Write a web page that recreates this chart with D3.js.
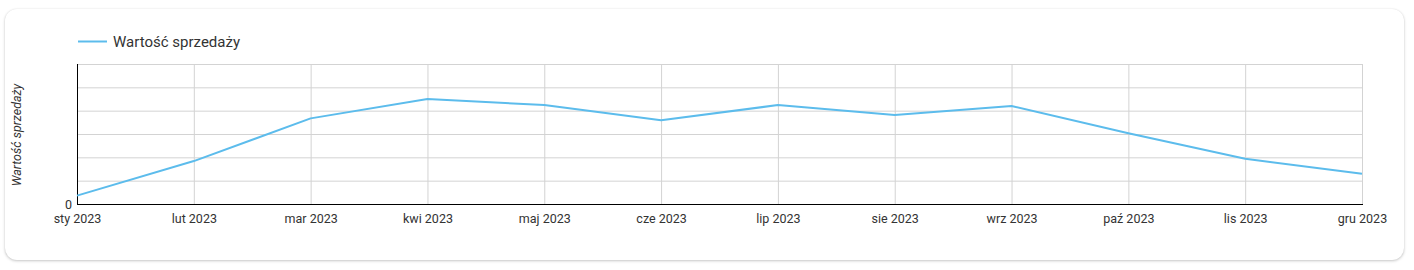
<!DOCTYPE html>
<html>
<head>
<meta charset="utf-8">
<script src="https://cdn.jsdelivr.net/npm/d3@7"></script>
<style>
    html, body { margin: 0; padding: 0; background: #fff; }
    body { width: 1414px; height: 270px; position: relative; overflow: hidden; font-family: Roboto, sans-serif; }
    .card {
        position: absolute; left: 5px; top: 9px; width: 1399px; height: 251px;
        background: #fff; border-radius: 12px;
        box-shadow: 0 1px 3px rgba(0, 0, 0, 0.22), 0 0 2px rgba(0, 0, 0, 0.06);
    }
    svg { position: absolute; left: 0; top: 0; }
</style>
</head>
<body>
<div class="card"></div>
<div id="container"></div>
<script>
const months = ['sty 2023', 'lut 2023', 'mar 2023', 'kwi 2023', 'maj 2023', 'cze 2023',
    'lip 2023', 'sie 2023', 'wrz 2023', 'paź 2023', 'lis 2023', 'gru 2023'];
const salesValues = [0.36, 1.84, 3.67, 4.5, 4.24, 3.59, 4.24, 3.81, 4.2, 3.03, 1.94, 1.3];
const gridValues = [0, 1, 2, 3, 4, 5, 6];
const yTickLabels = [0];
const seriesName = 'Wartość sprzedaży';

const width = 1414;
const height = 270;
const margin = {left: 77, right: 52, top: 64, bottom: 66};
const textColor = '#333';
const lineColor = '#5cbcec';

const x = d3.scalePoint()
    .domain(months)
    .range([margin.left, width - margin.right]);
const y = d3.scaleLinear()
    .domain([0, 6])
    .range([height - margin.bottom, margin.top]);

const svg = d3.select('#container')
    .append('svg')
        .attr('width', width)
        .attr('height', height);

// grid
const grid = svg.append('g').attr('class', 'grid');
grid.selectAll('line.h')
    .data(gridValues)
    .enter()
    .append('line')
        .attr('class', 'h')
        .attr('x1', margin.left)
        .attr('x2', width - margin.right)
        .attr('y1', d => y(d) + 0.5)
        .attr('y2', d => y(d) + 0.5)
        .attr('stroke', '#d3d3d3');
grid.selectAll('line.v')
    .data(months)
    .enter()
    .append('line')
        .attr('class', 'v')
        .attr('x1', d => x(d) + 0.5)
        .attr('x2', d => x(d) + 0.5)
        .attr('y1', y(6))
        .attr('y2', y(0))
        .attr('stroke', '#d3d3d3');

// axes
const xAxis = svg.append('g')
    .attr('transform', `translate(0,${y(0)})`)
    .call(d3.axisBottom(x).tickSize(0).tickPadding(10));
const yAxis = svg.append('g')
    .attr('transform', `translate(${margin.left},0)`)
    .call(d3.axisLeft(y).tickValues(yTickLabels).tickFormat(d3.format('d')).tickSize(0).tickPadding(5));

[xAxis, yAxis].forEach(a => {
    a.select('.domain').remove();
    a.selectAll('text')
        .attr('fill', textColor)
        .style('font-family', 'Roboto, sans-serif')
        .style('font-size', '12.5px');
});

svg.append('line')
    .attr('x1', margin.left + 0.5).attr('x2', margin.left + 0.5)
    .attr('y1', y(6)).attr('y2', y(0) + 0.5)
    .attr('stroke', '#000');
svg.append('line')
    .attr('x1', margin.left).attr('x2', width - margin.right + 1)
    .attr('y1', y(0) + 0.5).attr('y2', y(0) + 0.5)
    .attr('stroke', '#000');

// series
const line = d3.line()
    .x((d, i) => x(months[i]))
    .y(d => y(d));
svg.append('path')
    .datum(salesValues)
    .attr('d', line)
    .attr('fill', 'none')
    .attr('stroke', lineColor)
    .attr('stroke-width', 2)
    .attr('stroke-linejoin', 'round');

// y title
svg.append('text')
    .attr('transform', `translate(21,${(y(0) + y(6)) / 2 + 1}) rotate(-90)`)
    .attr('text-anchor', 'middle')
    .attr('fill', textColor)
    .style('font-family', 'Roboto, sans-serif')
    .style('font-size', '12.5px')
    .style('font-style', 'italic')
    .text(seriesName);

// legend
const legend = svg.append('g').attr('transform', 'translate(78,41)');
legend.append('line')
    .attr('x1', 0).attr('x2', 29)
    .attr('y1', 0.5).attr('y2', 0.5)
    .attr('stroke', lineColor)
    .attr('stroke-width', 2);
legend.append('text')
    .attr('x', 35)
    .attr('y', 5.5)
    .attr('fill', textColor)
    .style('font-family', 'Roboto, sans-serif')
    .style('font-size', '15px')
    .text(seriesName);
</script>
</body>
</html>
